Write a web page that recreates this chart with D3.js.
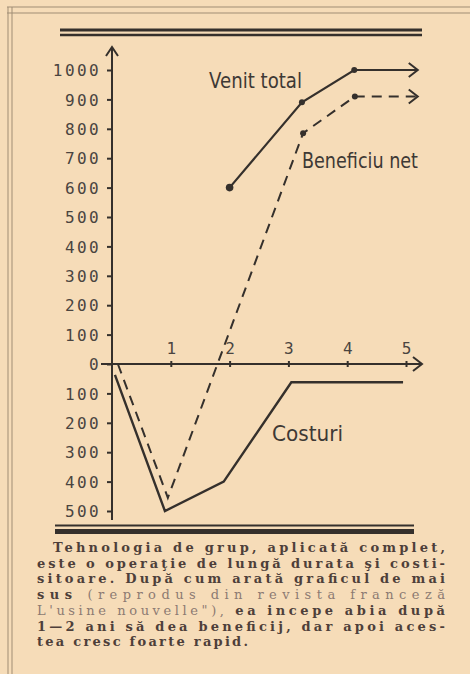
<!DOCTYPE html>
<html>
<head>
<meta charset="utf-8">
<script src="https://cdn.jsdelivr.net/npm/d3@7"></script>
<style>
  body { margin: 0; background: #f6dcb8; }
  svg { display: block; }
</style>
</head>
<body>
<div id="chart-area"></div>
<script>
// data (years on x, thousands on y)
var yTicks = [-500, -400, -300, -200, -100, 0, 100, 200, 300, 400, 500, 600, 700, 800, 900, 1000];
var xTicks = [1, 2, 3, 4, 5];

var venitX = [2, 3.23, 4.12, 5.2];
var venitY = [600, 890, 1000, 1000];
var beneficiuX = [0.1, 0.95, 3.25, 4.13, 5.2];
var beneficiuY = [0, -455, 785, 910, 910];
var costuriX = [0.05, 0.9, 1.9, 3.05, 4.95];
var costuriY = [-37, -500, -400, -62, -62];

var captionLines = [
	[["Tehnologia de grup, aplicată complet,", "b"]],
	[["este o operaţie de lungă durata şi costi-", "b"]],
	[["sitoare. După cum arată graficul de mai", "b"]],
	[["sus ", "b"], ["(reprodus din revista franceză", "n"]],
	[["L'usine nouvelle\"), ", "n"], ["ea incepe abia după", "b"]],
	[["1—2 ani să dea beneficij, dar apoi aces-", "b"]],
	[["tea cresc foarte rapid.", "b"]]
];

var ink = "#35302c";
var width = 470, height = 674;

var svg = d3.select("#chart-area")
	.append("svg")
		.attr("width", width)
		.attr("height", height);

svg.append("rect")
	.attr("width", width)
	.attr("height", height)
	.attr("fill", "#f6dcb8");

// page frame
[7, 13].forEach(function(yy){
	svg.append("line")
		.attr("x1", 7).attr("x2", width)
		.attr("y1", yy).attr("y2", yy)
		.attr("stroke", "#a08d74").attr("stroke-width", 1);
});
[8, 12].forEach(function(xx){
	svg.append("line")
		.attr("x1", xx).attr("x2", xx)
		.attr("y1", 7).attr("y2", height)
		.attr("stroke", "#a08d74").attr("stroke-width", 1);
});

// heavy rules above and below the chart
svg.append("line").attr("x1", 60).attr("x2", 422).attr("y1", 30).attr("y2", 30)
	.attr("stroke", ink).attr("stroke-width", 3);
svg.append("line").attr("x1", 60).attr("x2", 422).attr("y1", 35).attr("y2", 35)
	.attr("stroke", ink).attr("stroke-width", 2.5);
svg.append("line").attr("x1", 55).attr("x2", 414).attr("y1", 525.5).attr("y2", 525.5)
	.attr("stroke", ink).attr("stroke-width", 2);
svg.append("line").attr("x1", 55).attr("x2", 414).attr("y1", 531.5).attr("y2", 531.5)
	.attr("stroke", ink).attr("stroke-width", 5);

//scales
var x = d3.scaleLinear()
	.domain([0, 5])
	.range([112, 406]);

var y = d3.scaleLinear()
	.domain([-500, 1000])
	.range([511, 70]);

function arrowHead(px, py, dir) {
	// open chevron; dir "up" or "right"
	var p = d3.path();
	if (dir == "up") {
		p.moveTo(px - 6, py + 9); p.lineTo(px, py); p.lineTo(px + 6, py + 9);
	} else {
		p.moveTo(px - 9, py - 7); p.lineTo(px, py); p.lineTo(px - 9, py + 7);
	}
	svg.append("path")
		.attr("d", p.toString())
		.attr("fill", "none")
		.attr("stroke", ink)
		.attr("stroke-width", 2)
		.attr("stroke-linejoin", "miter");
}

//y axis
var yAxisCall = d3.axisLeft(y)
	.tickValues(yTicks)
	.tickSize(5)
	.tickPadding(6)
	.tickFormat(function(d){ return Math.abs(d) });

var yAxis = svg.append("g")
	.attr("transform", "translate(" + x(0) + ", 0)")
	.call(yAxisCall);
yAxis.select(".domain").remove();
yAxis.selectAll(".tick line").attr("stroke", ink).attr("stroke-width", 2);
yAxis.selectAll(".tick text")
	.attr("fill", "#4a4440")
	.attr("font-family", "'DejaVu Sans Mono', monospace")
	.attr("font-size", 16)
	.attr("letter-spacing", 2.4)
	.attr("dy", "0.36em");

svg.append("line")
	.attr("x1", x(0)).attr("x2", x(0))
	.attr("y1", 520).attr("y2", 47)
	.attr("stroke", ink).attr("stroke-width", 2);
arrowHead(x(0), 47, "up");

//x axis
var xAxisCall = d3.axisTop(x)
	.tickValues(xTicks)
	.tickSizeInner(3)
	.tickSizeOuter(0)
	.tickPadding(7)
	.tickFormat(function(d){ return d });

var xAxis = svg.append("g")
	.attr("transform", "translate(0, " + y(0) + ")")
	.call(xAxisCall);
xAxis.select(".domain").remove();
xAxis.selectAll(".tick line").attr("stroke", ink).attr("stroke-width", 2).attr("y2", 3).attr("y1", -3);
xAxis.selectAll(".tick text")
	.attr("fill", "#4a4440")
	.attr("font-family", "'DejaVu Sans Mono', monospace")
	.attr("font-size", 16);

svg.append("line")
	.attr("x1", 101).attr("x2", 422)
	.attr("y1", y(0)).attr("y2", y(0))
	.attr("stroke", ink).attr("stroke-width", 2);
arrowHead(422, y(0), "right");

//series
var line = d3.line()
	.x(function(d){ return x(d.x) })
	.y(function(d){ return y(d.y) });

function zipSeries(xs, ys) {
	return xs.map(function(v, i){ return { x: v, y: ys[i] }; });
}

var venit = zipSeries(venitX, venitY);
var beneficiu = zipSeries(beneficiuX, beneficiuY);
var costuri = zipSeries(costuriX, costuriY);

svg.append("path")
	.datum(venit)
	.attr("d", line)
	.attr("fill", "none")
	.attr("stroke", ink)
	.attr("stroke-width", 2.2);

svg.append("path")
	.datum(beneficiu)
	.attr("d", line)
	.attr("fill", "none")
	.attr("stroke", ink)
	.attr("stroke-width", 2)
	.attr("stroke-dasharray", "10,7");

svg.append("path")
	.datum(costuri)
	.attr("d", line)
	.attr("fill", "none")
	.attr("stroke", ink)
	.attr("stroke-width", 2.4)
	.attr("stroke-linejoin", "miter");

// dots at the data points
var dots = venit.slice(0, 3).concat(beneficiu.slice(2, 4));
svg.selectAll("circle.pt")
	.data(dots)
	.enter()
	.append("circle")
		.attr("class", "pt")
		.attr("cx", function(d){ return x(d.x) })
		.attr("cy", function(d){ return y(d.y) })
		.attr("r", function(d, i){ return i == 0 ? 3.8 : 3 })
		.attr("fill", ink);

arrowHead(x(venit[3].x), y(venit[3].y), "right");
arrowHead(x(beneficiu[4].x), y(beneficiu[4].y), "right");

//labels (hand lettered in the original: tall and narrow)
function seriesLabel(txt, lx, ly, len) {
	svg.append("text")
		.attr("x", lx)
		.attr("y", ly)
		.attr("font-family", "'DejaVu Sans', sans-serif")
		.attr("font-size", 22)
		.attr("fill", "#3e3935")
		.attr("textLength", len)
		.attr("lengthAdjust", "spacingAndGlyphs")
		.text(txt);
}
seriesLabel("Venit total", 209, 88, 93);
seriesLabel("Beneficiu net", 302, 168, 116);
seriesLabel("Costuri", 272, 441, 71);

//caption, justified lines as in the magazine column
captionLines.forEach(function(parts, i){
	var startX = i == 0 ? 53 : 37;
	var t = svg.append("text")
		.attr("x", startX)
		.attr("y", 552 + i * 15.7)
		.attr("font-family", "'DejaVu Serif', serif")
		.attr("font-size", 13);
	if (i < captionLines.length - 1) {
		t.attr("textLength", 445 - startX).attr("lengthAdjust", "spacing");
	} else {
		t.attr("textLength", 211).attr("lengthAdjust", "spacing");
	}
	parts.forEach(function(p){
		t.append("tspan")
			.attr("font-weight", p[1] == "b" ? "bold" : "normal")
			.attr("fill", p[1] == "b" ? "#4e3f3a" : "#8c7a72")
			.text(p[0]);
	});
});
</script>
</body>
</html>
